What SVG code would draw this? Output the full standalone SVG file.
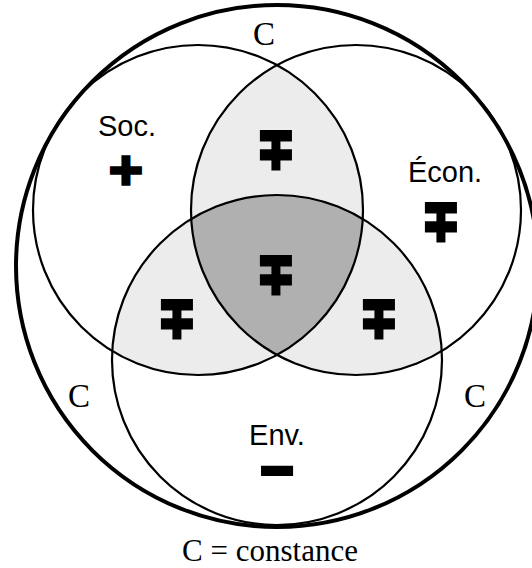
<svg xmlns="http://www.w3.org/2000/svg" width="532" height="568" viewBox="0 0 532 568">
<style>
.ring{fill:none;stroke:#000;stroke-width:2.2}
.outer{fill:none;stroke:#000;stroke-width:4}
.lbl{font-family:"Liberation Sans",Arial,sans-serif;font-size:29px;fill:#000;text-anchor:middle}
.c{font-family:"Liberation Serif","Times New Roman",serif;font-size:33px;fill:#000;text-anchor:middle}
.sym{font-family:"DejaVu Sans",sans-serif;font-weight:bold;font-size:43px;fill:#000;stroke:#000;stroke-width:3.6;stroke-linejoin:miter;text-anchor:middle}
</style>
<defs>
<clipPath id="cSoc"><circle cx="198" cy="210" r="165"/></clipPath>
<clipPath id="cEcon"><circle cx="356" cy="210" r="165"/></clipPath>
<clipPath id="cEnv"><circle cx="277" cy="360" r="165"/></clipPath>
</defs>
<rect width="532" height="568" fill="#fff"/>
<g id="shading">
<g clip-path="url(#cSoc)"><circle cx="356" cy="210" r="165" fill="#ececec"/></g>
<g clip-path="url(#cSoc)"><circle cx="277" cy="360" r="165" fill="#ececec"/></g>
<g clip-path="url(#cEcon)"><circle cx="277" cy="360" r="165" fill="#ececec"/></g>
<g clip-path="url(#cSoc)"><g clip-path="url(#cEcon)"><circle cx="277" cy="360" r="165" fill="#b0b0b0"/></g></g>
</g>
<g id="outer">
<circle class="outer" cx="277" cy="266" r="261"/>
<text class="c" x="264" y="45">C</text>
<text class="c" x="79" y="407">C</text>
<text class="c" x="475" y="407">C</text>
</g>
<g id="soc">
<circle class="ring" cx="198" cy="210" r="165"/>
<text class="lbl" x="127" y="136">Soc.</text>
<text class="sym" transform="translate(126,184) scale(1.05,1)" x="0" y="0">+</text>
</g>
<g id="econ">
<circle class="ring" cx="356" cy="210" r="165"/>
<text class="lbl" x="445" y="182">Écon.</text>
<text class="sym" transform="translate(441,240) scale(1.05,1.32)" x="0" y="0">∓</text>
</g>
<g id="env">
<circle class="ring" cx="277" cy="360" r="165"/>
<text class="lbl" x="277" y="445">Env.</text>
<text class="sym" transform="translate(277,487) scale(1.05,1.2)" x="0" y="0">−</text>
</g>
<g id="overlaps">
<text class="sym" transform="translate(276,168) scale(1.05,1.32)" x="0" y="0">∓</text>
<text class="sym" transform="translate(276,293) scale(1.05,1.32)" x="0" y="0">∓</text>
<text class="sym" transform="translate(177,337) scale(1.05,1.32)" x="0" y="0">∓</text>
<text class="sym" transform="translate(379,337) scale(1.05,1.32)" x="0" y="0">∓</text>
</g>
<text class="c" x="270" y="561" style="font-size:31px">C = constance</text>
</svg>
